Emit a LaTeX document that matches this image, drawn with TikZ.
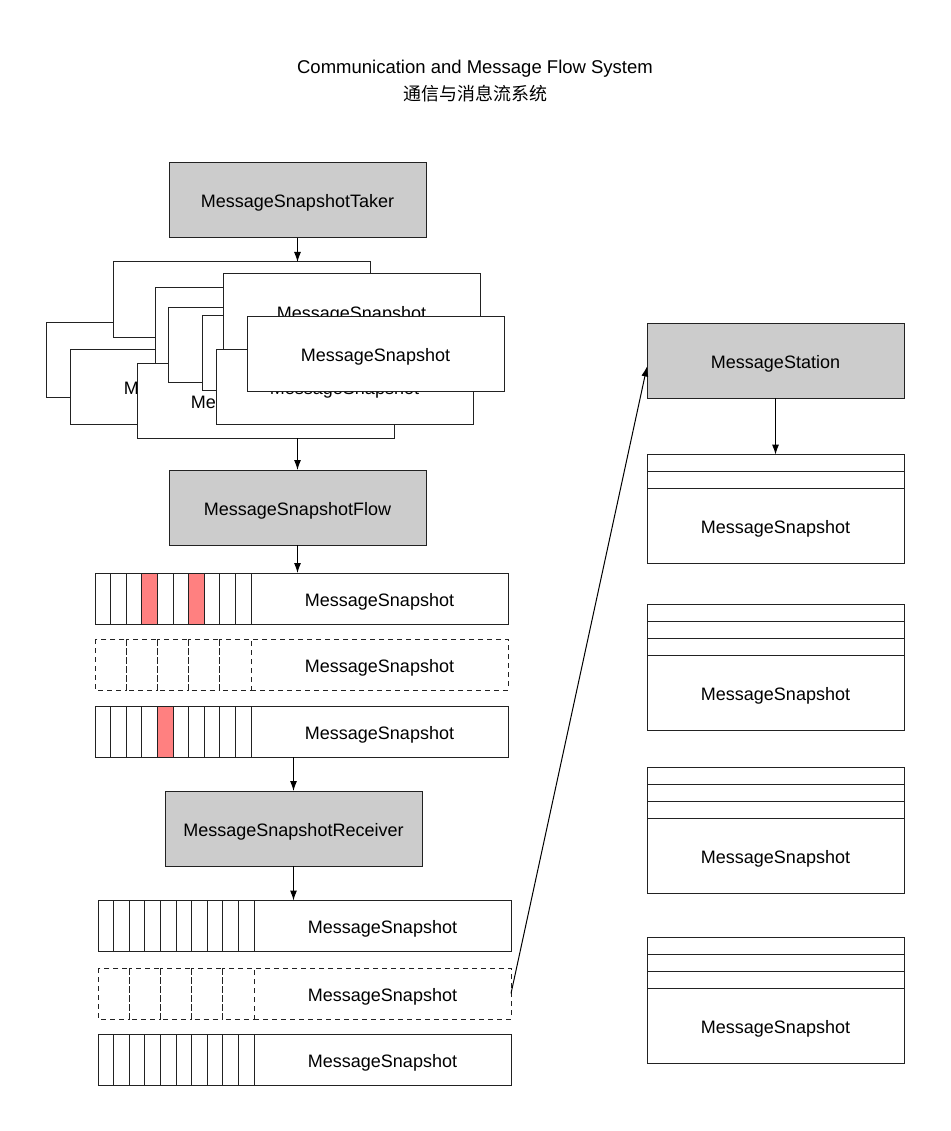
\documentclass[tikz,border=0pt]{standalone}
\usepackage{fontspec}
\setmainfont{Liberation Sans}
\newfontfamily\cjk{Noto Sans CJK SC}
\usetikzlibrary{positioning}
\usetikzlibrary{calc}
\usetikzlibrary{arrows.meta}
\definecolor{boxgray}{HTML}{CCCCCC}
\definecolor{cellred}{HTML}{FF8080}
\definecolor{edge}{HTML}{222222}
\tikzset{>={Latex[length=10pt,width=7pt]}}
\tikzset{stage/.style={rectangle, draw=edge, fill=boxgray, minimum width=257pt, minimum height=75pt, inner sep=0pt, outer sep=0pt, text height=19pt, text depth=4pt, font=\fontsize{18}{21}\selectfont}}
\tikzset{snap/.style={rectangle, draw=edge, fill=white, minimum width=257pt, minimum height=75pt, inner sep=0pt, outer sep=0pt, text height=19pt, text depth=4pt, font=\fontsize{18}{21}\selectfont}}
\tikzset{slot/.style={snap, minimum height=51pt}}
\tikzset{dashslot/.style={slot, dash pattern=on 5pt off 4pt}}
\tikzset{cell/.style={draw=edge}}
\tikzset{dashcell/.style={draw=edge, dash pattern=on 5pt off 4pt}}
\tikzset{strip/.style={draw=edge, fill=white}}

\begin{document}
\begin{tikzpicture}[x=1pt, y=-1pt, line width=1pt]

    \useasboundingbox (0,0) rectangle (950,1131);

    % Title.
    \node [font=\fontsize{18.5}{22}\selectfont] (title) at (475,68.5) {Communication and Message Flow System};
    \node [font=\fontsize{18}{22}\selectfont\cjk] (subtitle) at (475,93.5) {通信与消息流系统};

    % Taker and the pile of snapshots it makes.
    \node [stage] (taker) at (297.5,200.5) {MessageSnapshotTaker};
    \node [snap] (s2) at (174.5,359.5) {MessageSnapshot};
    \node [snap] (s1) at (241.5,299.5) {MessageSnapshot};
    \node [snap] (s3) at (198.5,386.5) {MessageSnapshot};
    \node [snap] (s4) at (265.5,400.5) {MessageSnapshot};
    \node [snap] (s5) at (283.5,325.5) {MessageSnapshot};
    \node [snap] (s6) at (296.5,344.5) {MessageSnapshot};
    \node [snap] (s7) at (330.5,352.5) {MessageSnapshot};
    \node [snap] (s8) at (351.5,311.5) {MessageSnapshot};
    \node [snap] (s10) at (344.5,386.5) {MessageSnapshot};
    \node [snap] (s9) at (375.5,353.5) {MessageSnapshot};

    % Flow with its three slots.
    \node [stage] (flow) at (297.5,507.5) {MessageSnapshotFlow};
    \node [slot] (r1) at (379.5,598.5) {MessageSnapshot};
    \node [dashslot] (r2) at (379.5,664.5) {MessageSnapshot};
    \node [slot] (r3) at (379.5,731.5) {MessageSnapshot};
    \foreach \k in {0,...,9} {
        \draw [cell] ($(r1.north west)+({(\k-10)*15.6},0)$) rectangle +(15.6,51);
        \draw [cell] ($(r3.north west)+({(\k-10)*15.6},0)$) rectangle +(15.6,51);
    }
    \foreach \k in {3,6}
        \draw [cell, fill=cellred] ($(r1.north west)+({(\k-10)*15.6},0)$) rectangle +(15.6,51);
    \draw [cell, fill=cellred] ($(r3.north west)+({(4-10)*15.6},0)$) rectangle +(15.6,51);
    \foreach \k in {0,...,4}
        \draw [dashcell] ($(r2.north west)+({(\k-5)*31.2},0)$) rectangle +(31.2,51);

    % Receiver with its three slots.
    \node [stage] (recv) at (293.5,828.5) {MessageSnapshotReceiver};
    \node [slot] (r4) at (382.5,926) {MessageSnapshot};
    \node [dashslot] (r5) at (382.5,993.5) {MessageSnapshot};
    \node [slot] (r6) at (382.5,1059.5) {MessageSnapshot};
    \foreach \k in {0,...,9} {
        \draw [cell] ($(r4.north west)+({(\k-10)*15.6},0)$) rectangle +(15.6,51);
        \draw [cell] ($(r6.north west)+({(\k-10)*15.6},0)$) rectangle +(15.6,51);
    }
    \foreach \k in {0,...,4}
        \draw [dashcell] ($(r5.north west)+({(\k-5)*31.2},0)$) rectangle +(31.2,51);

    % Station and its stacks.
    \node [stage] (station) at (775.5,360.5) {MessageStation};
    \node [snap] (q1) at (775.5,525.5) {MessageSnapshot};
    \node [snap] (q2) at (775.5,692.5) {MessageSnapshot};
    \node [snap] (q3) at (775.5,855.5) {MessageSnapshot};
    \node [snap] (q4) at (775.5,1025.5) {MessageSnapshot};
    \foreach \j in {1,2}
        \draw [strip] ($(q1.north west)-(0,\j*16.7)$) rectangle +(257,16.7);
    \foreach \q in {q2,q3,q4}
        \foreach \j in {1,2,3}
            \draw [strip] ($(\q.north west)-(0,\j*16.7)$) rectangle +(257,16.7);

    % Arrows.
    \draw [->] (taker) -- (taker|-s1.north);
    \draw [->] (flow|-s4.south) -- (flow);
    \draw [->] (flow) -- (flow|-r1.north);
    \draw [->] (recv|-r3.south) -- (recv);
    \draw [->] (recv) -- (recv|-r4.north);
    \draw [->] (r5.east) -- ($(station.west)+(0,6)$);
    \draw [->] (station) -- ($(q1.north)-(0,33.4)$);

\end{tikzpicture}
\end{document}
